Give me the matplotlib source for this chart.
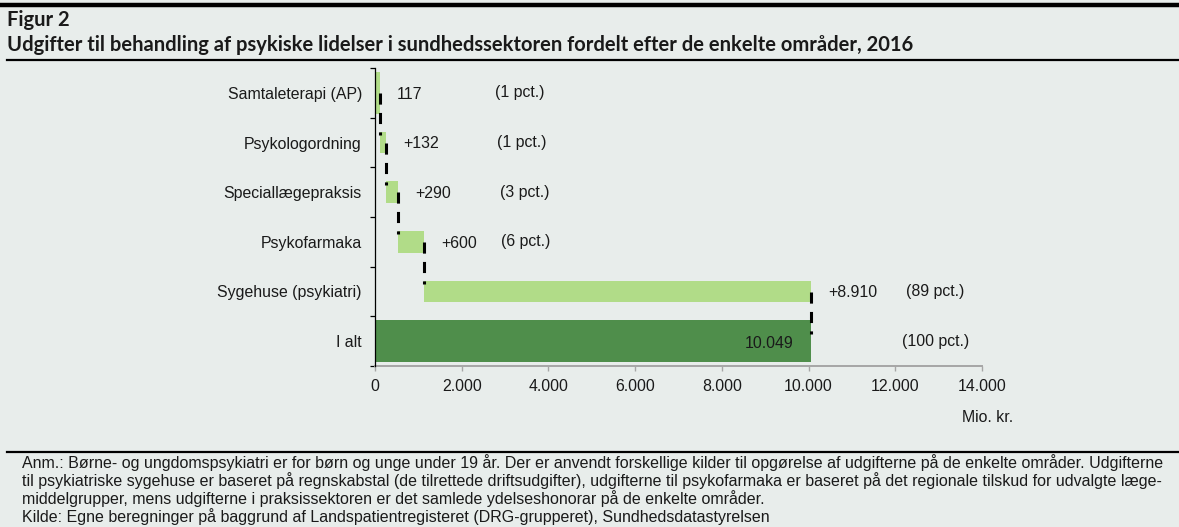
import matplotlib
matplotlib.use("Agg")
import matplotlib.pyplot as plt
from matplotlib.lines import Line2D
from matplotlib.ticker import FixedLocator
import numpy as np

plt.rcParams["lines.scale_dashes"] = False

# ---------------- data ----------------
categories = ["Samtaleterapi (AP)", "Psykologordning", "Speciallægepraksis",
              "Psykofarmaka", "Sygehuse (psykiatri)", "I alt"]
increments = [117, 132, 290, 600, 8910]
total = 10049
value_labels = ["117", "+132", "+290", "+600", "+8.910", "10.049"]
pct_labels = ["(1 pct.)", "(1 pct.)", "(3 pct.)", "(6 pct.)", "(89 pct.)", "(100 pct.)"]
xticks = [0, 2000, 4000, 6000, 8000, 10000, 12000, 14000]
xtick_labels = ["0", "2.000", "4.000", "6.000", "8.000", "10.000", "12.000", "14.000"]

# ---------------- layout / style ----------------
pct_x = [2768, 2814, 2883, 2906, 12246, 12154]   # label positions (x, data units)
BG = "#e8edeb"
LIGHT = "#b1dc88"
DARK = "#4f8e4b"
TXT = "#1a1a1a"
W, H = 1179, 527
SANS = ["Liberation Sans", "DejaVu Sans"]
TITLE = ["Lato", "DejaVu Sans"]
FS = 11.4

fig = plt.figure(figsize=(W / 100, H / 100), dpi=100, facecolor=BG)
ax = fig.add_axes([375 / W, 1 - 366 / H, (982 - 375) / W, (366 - 68) / H])
ax.set_facecolor(BG)

ypos = np.arange(len(categories))
starts = np.concatenate([[0], np.cumsum(increments)[:-1]])
ends = np.cumsum(increments)

# bars
for i, (s, v) in enumerate(zip(starts, increments)):
    h = 0.85 if i == 0 else 0.44
    ax.barh(ypos[i], v, left=s, height=h, color=LIGHT, zorder=2)
ax.barh(ypos[-1], total, left=0, height=0.85, color=DARK, zorder=2)

# connectors
for i, e in enumerate(ends):
    ax.plot([e, e], [ypos[i], ypos[i + 1] - 0.15], color="black", lw=2.2,
            linestyle=(0, (8, 6)), solid_capstyle="butt", dash_capstyle="butt", zorder=3)

# value labels
for i, e in enumerate(ends):
    ax.annotate(value_labels[i], (e, ypos[i]), xytext=(12.3, -1), textcoords="offset points",
                ha="left", va="center", fontsize=FS, family=SANS, color=TXT)
ax.annotate(value_labels[-1], (total, ypos[-1]), xytext=(-12.3, -1.5), textcoords="offset points",
            ha="right", va="center", fontsize=FS, family=SANS, color=TXT)

# pct labels
for i, lab in enumerate(pct_labels):
    ax.text(pct_x[i], ypos[i], lab, ha="left", va="center", fontsize=FS,
            family=SANS, color=TXT)

ax.set_xlim(0, 14000)
ax.set_ylim(len(categories) - 0.5, -0.5)
ax.set_xticks(xticks)
ax.set_xticklabels(xtick_labels, fontsize=FS, family=SANS, color=TXT)
ax.set_yticks(ypos)
ax.set_yticklabels(categories, fontsize=FS, family=SANS, color=TXT)
ax.yaxis.set_minor_locator(FixedLocator(np.arange(-0.5, len(categories), 1.0)))
ax.tick_params(axis="y", which="major", length=0, pad=9.4)
ax.tick_params(axis="y", which="minor", length=3.6, width=0.9, color="black", direction="out")
ax.tick_params(axis="x", which="major", length=3.4, width=1.0, color="#a6a6a6", pad=6)
for s in ["top", "right"]:
    ax.spines[s].set_visible(False)
ax.spines["left"].set_color("black")
ax.spines["left"].set_linewidth(0.9)
ax.spines["bottom"].set_color("#a6a6a6")
ax.spines["bottom"].set_linewidth(1.4)
ax.spines["left"].set_zorder(4)

fig.text(1013 / W, 1 - 417 / H, "Mio. kr.", ha="right", va="center", fontsize=FS,
         family=SANS, color=TXT)

# title
fig_title = fig.text(7 / W, 1 - 20 / H, "Figur 2", ha="left", va="center", fontsize=12.5,
                     fontweight="bold", family=TITLE, color=TXT)
sub = fig.text(7 / W, 1 - 45 / H,
               "Udgifter til behandling af psykiske lidelser i sundhedssektoren fordelt efter de enkelte områder, 2016",
               ha="left", va="center", fontsize=12.5, fontweight="bold", family=TITLE, color=TXT)

# footnote
notes = [
    "Anm.: Børne- og ungdomspsykiatri er for børn og unge under 19 år. Der er anvendt forskellige kilder til opgørelse af udgifterne på de enkelte områder. Udgifterne",
    "til psykiatriske sygehuse er baseret på regnskabstal (de tilrettede driftsudgifter), udgifterne til psykofarmaka er baseret på det regionale tilskud for udvalgte læge-",
    "middelgrupper, mens udgifterne i praksissektoren er det samlede ydelseshonorar på de enkelte områder.",
    "Kilde: Egne beregninger på baggrund af Landspatientregisteret (DRG-grupperet), Sundhedsdatastyrelsen",
]
note_y = [463, 481, 499, 517]
note_texts = []
for t, y in zip(notes, note_y):
    note_texts.append(fig.text(22 / W, 1 - y / H, t, ha="left", va="center", fontsize=9.5,
                               family=SANS, color=TXT))

# fit widths
fig.canvas.draw()
r = fig.canvas.get_renderer()
wsub = sub.get_window_extent(r).width
tfs = 12.5 * (910 / wsub)
sub.set_fontsize(tfs)
fig_title.set_fontsize(tfs)
w1 = note_texts[0].get_window_extent(r).width
nfs = 9.5 * (1140 / w1)
for t in note_texts:
    t.set_fontsize(nfs)

# rules
fig.add_artist(Line2D([0, 1], [1 - 5 / H, 1 - 5 / H], color="black", lw=3.2, transform=fig.transFigure))
fig.add_artist(Line2D([7 / W, 1], [1 - 59.5 / H, 1 - 59.5 / H], color="black", lw=1.6, transform=fig.transFigure))
fig.add_artist(Line2D([7 / W, 1], [1 - 452 / H, 1 - 452 / H], color="black", lw=1.6, transform=fig.transFigure))

fig.savefig("out.png", dpi=100, facecolor=BG)
